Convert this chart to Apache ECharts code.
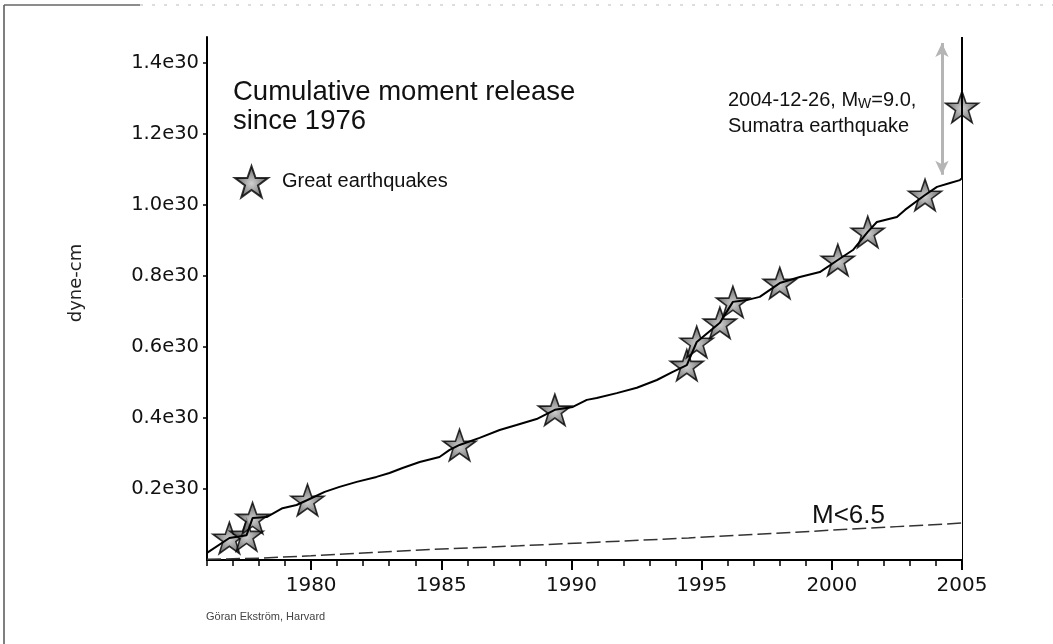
<!DOCTYPE html>
<html>
<head>
<meta charset="utf-8">
<script src="https://cdn.jsdelivr.net/npm/echarts@6/dist/echarts.min.js"></script>
<style>
  html, body { margin: 0; padding: 0; background: #fff; }
  #chart { width: 1053px; height: 644px; }
</style>
</head>
<body>
<div id="chart"></div>
<script>
// cumulative moment release, units of 1e30 dyne-cm
const curveYears = [1976.0, 1976.86, 1977.52, 1977.75, 1978.29, 1978.9, 1979.44, 1979.86, 1980.52, 1981.09,
  1981.75, 1982.51, 1983.01, 1983.51, 1984.17, 1984.93, 1985.32, 1985.7, 1986.47, 1987.24,
  1987.89, 1988.66, 1989.36, 1990.05, 1990.59, 1990.97, 1991.74, 1992.51, 1993.28, 1993.89,
  1994.43, 1994.81, 1995.7, 1996.2, 1996.73, 1997.23, 1998.0, 1998.77, 1999.54, 2000.23,
  2000.81, 2001.38, 2001.73, 2002.5, 2002.81, 2003.58, 2004.04, 2004.54, 2004.92, 2005.0, 2005.0]
const curveMoment = [0.020, 0.062, 0.070, 0.118, 0.121, 0.146, 0.155, 0.169, 0.192, 0.206,
  0.220, 0.234, 0.245, 0.259, 0.276, 0.290, 0.310, 0.324, 0.344, 0.366,
  0.380, 0.397, 0.423, 0.431, 0.451, 0.456, 0.470, 0.485, 0.507, 0.530,
  0.549, 0.614, 0.668, 0.727, 0.732, 0.741, 0.780, 0.797, 0.811, 0.845,
  0.873, 0.924, 0.952, 0.966, 0.986, 1.028, 1.051, 1.062, 1.070, 1.075, 1.473]

// great earthquakes (stars)
const quakeYears = [1976.86, 1977.52, 1977.75, 1979.86, 1985.7, 1989.36, 1994.43, 1994.81, 1995.7, 1996.2,
  1998.0, 2000.23, 2001.38, 2003.58, 2005.0]
const quakeMoment = [0.062, 0.070, 0.118, 0.169, 0.324, 0.423, 0.549, 0.614, 0.668, 0.727,
  0.780, 0.845, 0.924, 1.028, 1.276]

// M<6.5 events
const smallYears = [1976.0, 1978, 1980, 1982, 1985, 1988, 1991, 1994.5, 1997, 2000, 2002.5, 2005]
const smallMoment = [0.002, 0.005, 0.012, 0.020, 0.031, 0.040, 0.050, 0.062, 0.072, 0.084, 0.094, 0.104]

// Sumatra jump arrow
const arrowYear = 2004.23
const arrowRange = [1.085, 1.456]

const majorYears = [1980, 1985, 1990, 1995, 2000, 2005]
const minorYears = [1976, 1977, 1978, 1979, 1980, 1981, 1982, 1983, 1984, 1985, 1986, 1987, 1988, 1989, 1990,
  1991, 1992, 1993, 1994, 1995, 1996, 1997, 1998, 1999, 2000, 2001, 2002, 2003, 2004, 2005]
const yTicks = [0.2, 0.4, 0.6, 0.8, 1.0, 1.2, 1.4]

const STAR = 'path://M50,0 L61.8,34.5 L97.6,34.5 L68.7,55.9 L79.4,90.5 L50,69.1 L20.6,90.5 L31.3,55.9 L2.4,34.5 L38.2,34.5 Z'
const SANS = '"Liberation Sans", Arial, sans-serif'
const ROUND = '"DejaVu Sans", sans-serif'

const zip = (a, b) => a.map((v, i) => [v, b[i]])

const chart = echarts.init(document.getElementById('chart'))

const gridBox = { left: 207, right: 91, top: 37, bottom: 84 }

chart.setOption({
  animation: false,
  backgroundColor: '#fff',
  grid: [Object.assign({}, gridBox), Object.assign({}, gridBox)],
  legend: {
    data: ['Great earthquakes'],
    left: 229,
    top: 160,
    itemWidth: 33,
    itemHeight: 32,
    textStyle: { fontFamily: SANS, fontSize: 20, color: '#111', padding: [0, 0, 0, 9] }
  },
  xAxis: [
    {
      gridIndex: 0, type: 'value', min: 1976, max: 2005,
      splitLine: { show: false },
      axisLine: { show: true, lineStyle: { color: '#000', width: 2 } },
      axisTick: { show: true, customValues: majorYears, length: 10, lineStyle: { color: '#000', width: 2 } },
      axisLabel: {
        customValues: majorYears, formatter: v => String(v),
        fontFamily: ROUND, fontSize: 20, color: '#111', margin: 16
      }
    },
    {
      gridIndex: 1, type: 'value', min: 1976, max: 2005,
      splitLine: { show: false },
      axisLine: { show: false },
      axisTick: { show: true, customValues: minorYears, length: 6, lineStyle: { color: '#000', width: 1.5 } },
      axisLabel: { show: false }
    }
  ],
  yAxis: [
    {
      gridIndex: 0, type: 'value', min: 0, max: 1.473,
      splitLine: { show: false },
      axisLine: { show: true, lineStyle: { color: '#000', width: 2 } },
      axisTick: { show: true, customValues: yTicks, length: 4, lineStyle: { color: '#000', width: 1.5 } },
      axisLabel: {
        customValues: yTicks, formatter: v => v.toFixed(1) + 'e30',
        fontFamily: ROUND, fontSize: 19.5, color: '#111', margin: 8
      }
    },
    { gridIndex: 1, type: 'value', min: 0, max: 1.473, show: false }
  ],
  series: [
    {
      name: 'M<6.5', type: 'line', xAxisIndex: 0, yAxisIndex: 0,
      data: zip(smallYears, smallMoment),
      symbol: 'none',
      lineStyle: { color: '#333', width: 1.5, type: [14, 5] },
      markLine: {
        silent: true, symbol: 'none', label: { show: false },
        lineStyle: { color: '#000', width: 1, type: 'solid' },
        data: [{ xAxis: 2005 }]
      }
    },
    {
      name: 'Cumulative', type: 'line', xAxisIndex: 0, yAxisIndex: 0,
      data: zip(curveYears, curveMoment),
      symbol: 'none',
      lineStyle: { color: '#000', width: 2 },
      markLine: {
        silent: true, symbol: ['arrow', 'arrow'], symbolSize: [10, 14],
        label: { show: false },
        lineStyle: { color: '#b5b5b5', width: 3, type: 'solid' },
        data: [[{ coord: [arrowYear, arrowRange[0]] }, { coord: [arrowYear, arrowRange[1]] }]]
      }
    },
    {
      name: 'Great earthquakes', type: 'scatter', xAxisIndex: 0, yAxisIndex: 0,
      data: zip(quakeYears, quakeMoment),
      symbol: STAR, symbolSize: 33, symbolKeepAspect: true,
      itemStyle: {
        color: {
          type: 'radial', x: 0.5, y: 0.55, r: 0.5,
          colorStops: [{ offset: 0, color: '#c4c4c4' }, { offset: 1, color: '#444' }]
        },
        borderColor: '#000', borderWidth: 1.6
      }
    }
  ],
  graphic: [
    { type: 'line', shape: { x1: 4, y1: 5, x2: 4, y2: 644 }, style: { stroke: '#555', lineWidth: 1.5 } },
    { type: 'line', shape: { x1: 4, y1: 5, x2: 140, y2: 5 }, style: { stroke: '#666', lineWidth: 1.5 } },
    { type: 'line', shape: { x1: 140, y1: 5, x2: 1053, y2: 5 }, style: { stroke: '#bbb', lineWidth: 1, lineDash: [3, 9] } },
    {
      type: 'text', x: 233, y: 77.5,
      style: { text: 'Cumulative moment release\nsince 1976', fontFamily: SANS, fontSize: 27.5, lineHeight: 29, fill: '#111', align: 'left', verticalAlign: 'top' }
    },
    {
      type: 'text', x: 728, y: 100,
      style: {
        text: '2004-12-26, M{w|W}=9.0,', fontFamily: SANS, fontSize: 20, fill: '#111', align: 'left', verticalAlign: 'middle',
        rich: { w: { fontFamily: SANS, fontSize: 14, fill: '#111', padding: [9, 0, 0, 0] } }
      }
    },
    {
      type: 'text', x: 728, y: 126,
      style: { text: 'Sumatra earthquake', fontFamily: SANS, fontSize: 20, fill: '#111', align: 'left', verticalAlign: 'middle' }
    },
    {
      type: 'text', x: 812, y: 516,
      style: { text: 'M<6.5', fontFamily: SANS, fontSize: 26, fill: '#111', align: 'left', verticalAlign: 'middle' }
    },
    {
      type: 'text', x: 76, y: 283, rotation: Math.PI / 2,
      style: { text: 'dyne-cm', fontFamily: ROUND, fontSize: 18, fill: '#222', align: 'center', verticalAlign: 'middle' }
    },
    {
      type: 'text', x: 206, y: 617,
      style: { text: 'Göran Ekström, Harvard', fontFamily: SANS, fontSize: 11, fill: '#444', align: 'left', verticalAlign: 'middle' }
    }
  ]
})
</script>
</body>
</html>
